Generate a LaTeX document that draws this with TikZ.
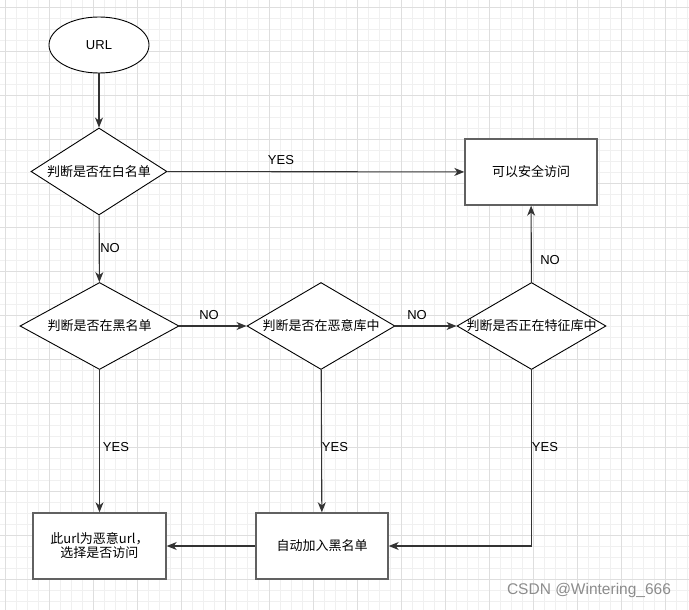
\documentclass[tikz,border=0pt]{standalone}
\usepackage{fontspec}
\setmainfont{Liberation Sans}
\newfontfamily\cjk{Noto Sans CJK SC}
\usetikzlibrary{shapes.geometric}
\usetikzlibrary{arrows.meta}

\tikzset{
  startnode/.style={ellipse, draw=black, line width=0.9pt, fill=white, minimum width=100pt, minimum height=56pt, font=\fontsize{13}{15}\selectfont},
  decision/.style={diamond, draw=black, line width=0.9pt, fill=white, inner sep=0pt, minimum height=87pt, font=\cjk\fontsize{13}{15}\selectfont},
  actbox/.style={rectangle, draw=black!62, line width=1.4pt, fill=white, minimum width=132pt, minimum height=66pt, inner sep=0pt, font=\cjk\fontsize{13}{15}\selectfont},
  flow/.style={draw=black!80, line width=1.1pt, -{Stealth[length=10pt,width=8pt,inset=3pt]}},
  flowlabel/.style={font=\fontsize{13}{15}\selectfont, inner sep=0pt},
}
\newcommand{\ctext}[1]{\makebox[0pt]{#1}}

\begin{document}
\begin{tikzpicture}[x=1pt, y=-1pt]
        % page and grid
        \fill[white] (0,0) rectangle (689,610);
        \useasboundingbox (0,0) rectangle (689,610);
        \foreach \x in {5,16,...,687} {
            \draw[black!6, line width=0.8pt] (\x,0) -- (\x,610);
        }
        \foreach \y in {7,18,...,601} {
            \draw[black!6, line width=0.8pt] (0,\y) -- (689,\y);
        }
        \foreach \x in {5,49,...,665} {
            \draw[black!13, line width=0.8pt] (\x,0) -- (\x,610);
        }
        \foreach \y in {7,51,...,579} {
            \draw[black!13, line width=0.8pt] (0,\y) -- (689,\y);
        }

        % start
        \node[startnode] (url) at (99,45) {URL};

        % decisions
        \node[decision, minimum width=136pt] (white) at (99,171.5) {\ctext{判断是否在白名单}};
        \node[decision, minimum width=159pt] (black) at (99.5,326) {\ctext{判断是否在黑名单}};
        \node[decision, minimum width=148pt] (evil) at (321,326) {\ctext{判断是否在恶意库中}};
        \node[decision, minimum width=149pt] (feature) at (531.5,326) {\ctext{判断是否正在特征库中}};

        % results
        \node[actbox] (safe) at (531,172) {可以安全访问};
        \node[actbox, minimum width=133pt, align=center] (bad) at (99.5,546) {此url为恶意url，\\[-1pt]选择是否访问};
        \node[actbox] (add) at (322,546) {自动加入黑名单};

        % connectors
        \draw[flow] (url) -- (white);
        \draw[flow] (white) -- (safe);
        \draw[flow] (white) -- (black);
        \draw[flow] (black) -- (evil);
        \draw[flow] (evil) -- (feature);
        \draw[flow] (feature) -- (safe);
        \draw[flow] (black) -- (bad);
        \draw[flow] (evil) -- (add);
        \draw[flow] (feature.south) |- (add.east);
        \draw[flow] (add) -- (bad);

        % labels
        \node[flowlabel] (yes1) at (281,160) {YES};
        \node[flowlabel] (no1) at (110,248) {NO};
        \node[flowlabel] (no2) at (209,315) {NO};
        \node[flowlabel] (no3) at (417,315) {NO};
        \node[flowlabel] (no4) at (550,260) {NO};
        \node[flowlabel] (yes2) at (116,447) {YES};
        \node[flowlabel] (yes3) at (335,447) {YES};
        \node[flowlabel] (yes4) at (545,447) {YES};

        % watermark
        \node[text=black!45, font=\fontsize{15.5}{17}\selectfont] (mark) at (589,590) {CSDN @Wintering\_666};
\end{tikzpicture}
\end{document}
